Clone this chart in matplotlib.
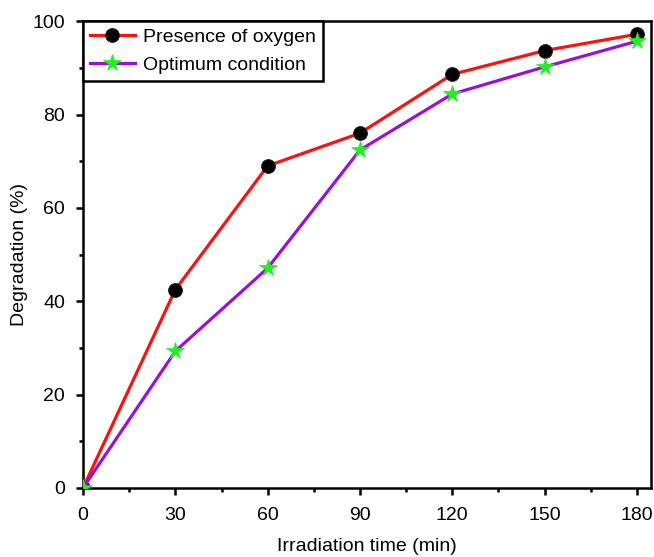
import matplotlib
matplotlib.use('Agg')
import matplotlib.pyplot as plt

plt.rcParams['font.family'] = ['Liberation Sans', 'DejaVu Sans']

# irradiation time (min)
tiempo = [0, 30, 60, 90, 120, 150, 180]
# degradation (%)
oxigeno = [0, 42.5, 69.0, 76.0, 88.6, 93.7, 97.2]
optimo = [0, 29.3, 47.1, 72.4, 84.4, 90.2, 95.7]

fig = plt.figure(figsize=(6.54, 5.57), dpi=100)
ax = fig.add_axes([0.127, 0.124, 0.868, 0.838])

ax.plot(tiempo, oxigeno, color='#ff1010', lw=2.3, marker='o', ms=10,
        mfc='black', mec='#222222', mew=0.6, label='Presence of oxygen', zorder=3)
ax.plot(tiempo, optimo, color='#9b10d8', lw=2.3, marker='*', ms=13,
        mfc='#22ee22', mec='#22ee22', mew=0.5, label='Optimum condition', zorder=4)

ax.set_xlim(0, 184.5)
ax.set_ylim(0, 100)
ax.set_xticks(tiempo)
ax.set_xticks(range(15, 180, 30), minor=True)
ax.set_yticks(range(0, 101, 20))
ax.set_yticks(range(10, 100, 20), minor=True)

ax.tick_params(which='major', direction='out', length=5, width=1.8, labelsize=14)
ax.tick_params(which='minor', direction='out', length=3, width=1.8)
ax.tick_params(axis='x', which='major', pad=9)
ax.tick_params(axis='y', which='major', pad=8)
for s in ax.spines.values():
    s.set_linewidth(1.8)

ax.set_xlabel('Irradiation time (min)', fontsize=14, labelpad=10)
ax.set_ylabel('Degradation (%)', fontsize=14, labelpad=3)

leg = ax.legend(loc='upper left', fontsize=14, fancybox=False, framealpha=1,
                edgecolor='black', borderaxespad=0, handlelength=2.3,
                handletextpad=0.45, borderpad=0.35, labelspacing=0.55)
leg.get_frame().set_linewidth(1.8)

fig.savefig('out.png', dpi=100)
